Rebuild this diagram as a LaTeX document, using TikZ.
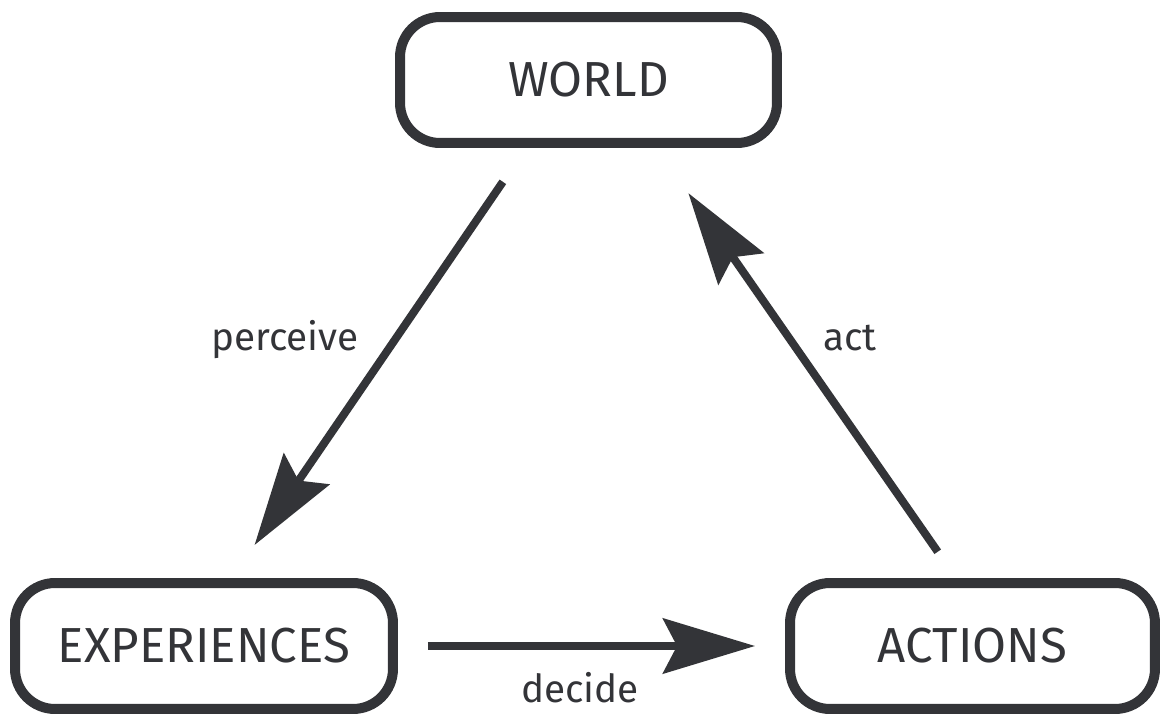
\documentclass[tikz,border=0pt]{standalone}
\usepackage{fontspec}
\setmainfont{Fira Sans}
\usetikzlibrary{arrows.meta,calc}
\definecolor{ink}{HTML}{333438}
\begin{document}
\begin{tikzpicture}[x=0.02cm, y=-0.02cm,
    stagebox/.style={draw=ink, line width=0.2cm, rounded corners=0.8cm,
        minimum height=2.52cm, text=ink, font=\fontsize{28}{34}\selectfont},
    flow/.style={draw=ink, line width=0.16cm,
        -{Stealth[length=1.84cm, width=1.1cm, inset=0.28cm]}},
    flowlabel/.style={text=ink, font=\fontsize{22}{26}\selectfont}]
        % Fix the canvas
        \useasboundingbox[fill=white] (0,0) rectangle (1161,717);

        % The three stages of the loop
        \node[stagebox, minimum width=7.54cm] (world) at (588.5,80) {WORLD};
        \node[stagebox, minimum width=7.56cm] (experiences) at (204,646) {EXPERIENCES};
        \node[stagebox, minimum width=7.3cm] (actions) at (972.5,646) {ACTIONS};

        % World to experiences
        \draw[flow, shorten <=0.82cm, shorten >=0.8cm]
            ([xshift=-1.25cm]world.south) -- ([xshift=0.56cm]experiences.north);
        \node[flowlabel] (perceive) at (285,340) {perceive};

        % Experiences to actions
        \draw[flow, shorten <=0.6cm, shorten >=0.6cm] (experiences) -- (actions);
        \node[flowlabel] (decide) at (580,688) {decide};

        % Actions back to world
        \draw[flow, shorten <=0.64cm, shorten >=1.1cm]
            ([xshift=-0.33cm]actions.north) -- ([xshift=1.37cm]world.south);
        \node[flowlabel] (act) at (850,338) {act};
    \end{tikzpicture}
\end{document}
